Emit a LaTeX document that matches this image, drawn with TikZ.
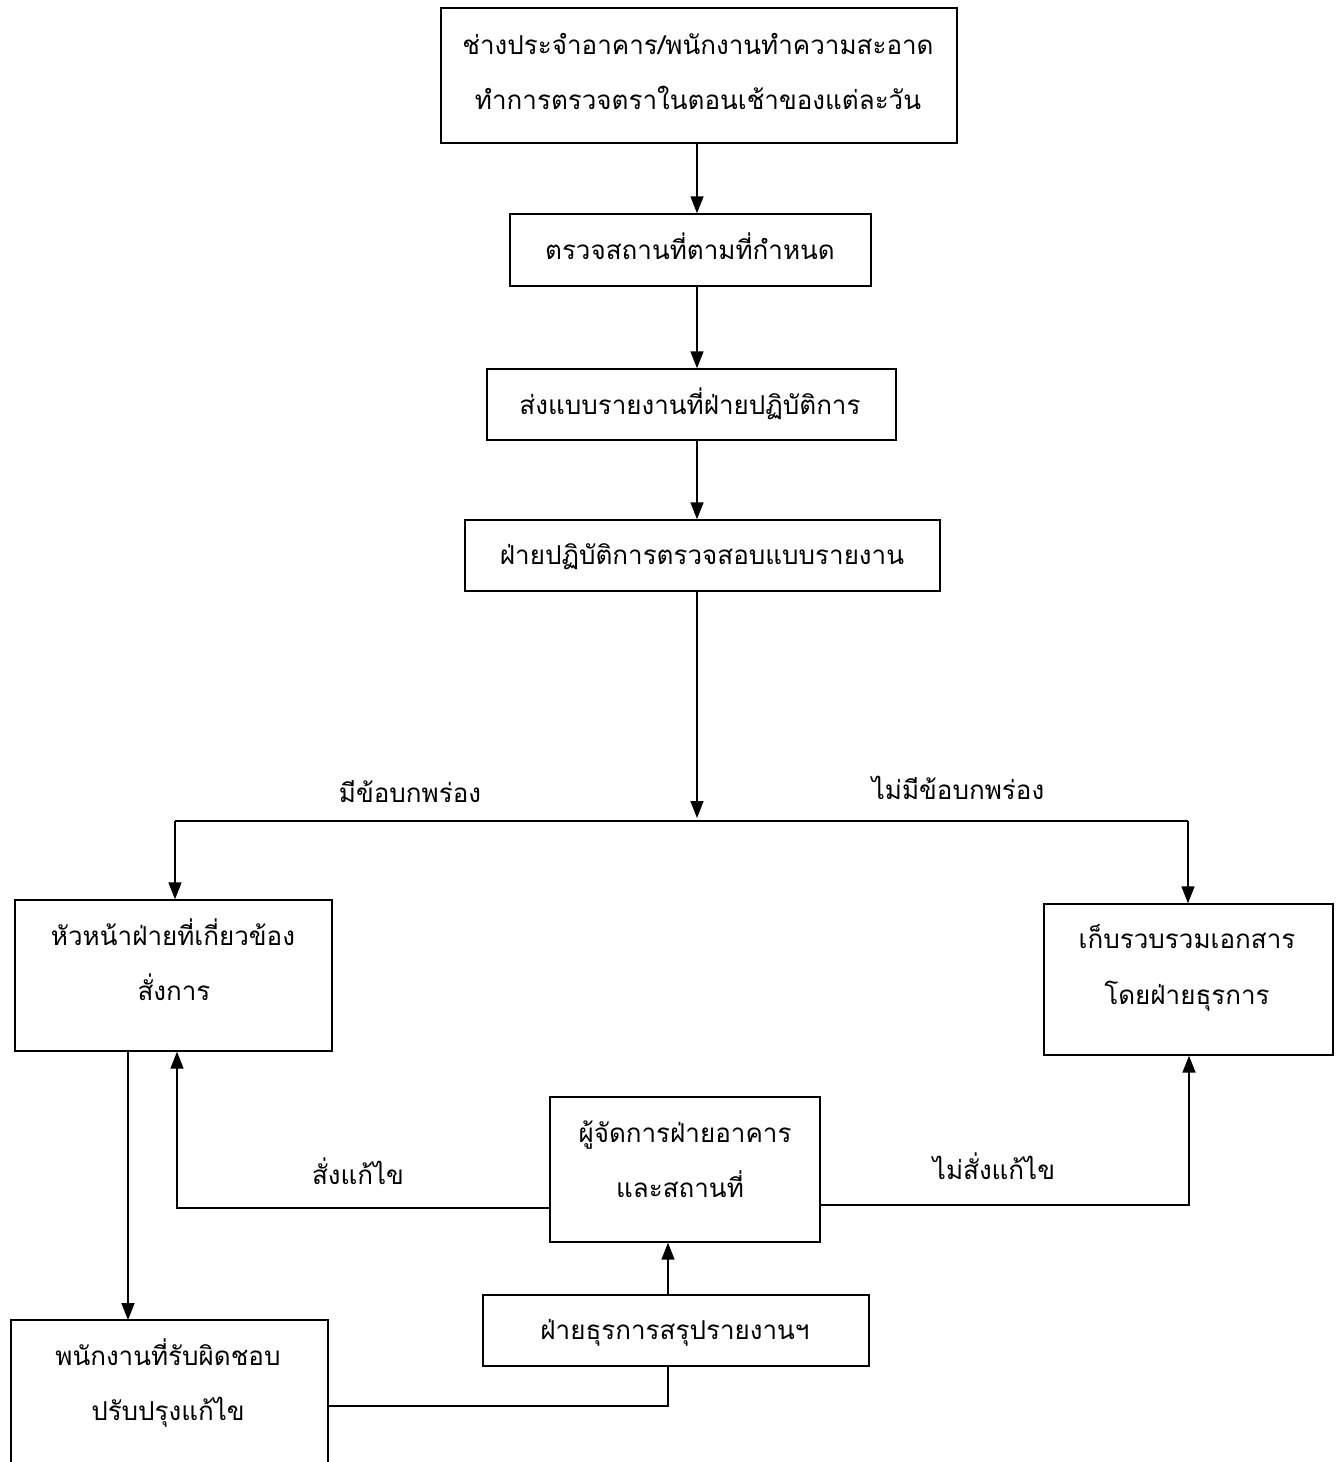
\documentclass[tikz,border=0pt]{standalone}
\usepackage{fontspec}
\newfontfamily\thaifont[Script=Thai]{Loma}
\usetikzlibrary{arrows.meta}
\tikzset{
  box/.style={draw, line width=1.4pt, inner sep=0pt},
  txt/.style={anchor=base, inner sep=0pt, font=\fontsize{26}{30}\thaifont},
  arr/.style={line width=1.6pt, -{Triangle[width=13pt,length=17pt]}},
  ln/.style={line width=1.4pt}
}
\begin{document}
\begin{tikzpicture}[x=1pt,y=-1pt]
\useasboundingbox (0,0) rectangle (1343,1462);
% boxes
\node[box, minimum width=516pt, minimum height=135pt] (b1) at (699,75.5) {};
\node[box, minimum width=361pt, minimum height=72pt] (b2) at (690.5,250) {};
\node[box, minimum width=409pt, minimum height=71pt] (b3) at (691.5,404.5) {};
\node[box, minimum width=475pt, minimum height=71pt] (b4) at (702.5,555.5) {};
\node[box, minimum width=317pt, minimum height=151pt] (b5) at (173.5,975.5) {};
\node[box, minimum width=289pt, minimum height=151pt] (b6) at (1188.5,979.5) {};
\node[box, minimum width=270pt, minimum height=145pt] (b7) at (685,1169.5) {};
\node[box, minimum width=386pt, minimum height=71pt] (b8) at (676,1330.5) {};
% bottom box, cut by the page edge
\coordinate (b9tl) at (11,1320);
\coordinate (b9tr) at (328,1320);
\draw[ln] (11,1480) -- (b9tl) -- (b9tr) -- (328,1480);
% texts
\node[txt] (t1a) at (698,54) {ช่างประจำอาคาร/พนักงานทำความสะอาด};
\node[txt] (t1b) at (698,109) {ทำการตรวจตราในตอนเช้าของแต่ละวัน};
\node[txt] (t2) at (690,259) {ตรวจสถานที่ตามที่กำหนด};
\node[txt] (t3) at (690,414) {ส่งแบบรายงานที่ฝ่ายปฏิบัติการ};
\node[txt] (t4) at (702,564) {ฝ่ายปฏิบัติการตรวจสอบแบบรายงาน};
\node[txt] (lyes) at (410,802) {มีข้อบกพร่อง};
\node[txt] (lno) at (958,799) {ไม่มีข้อบกพร่อง};
\node[txt] (t5a) at (173,945) {หัวหน้าฝ่ายที่เกี่ยวข้อง};
\node[txt] (t5b) at (174,1000) {สั่งการ};
\node[txt] (t6a) at (1187,948) {เก็บรวบรวมเอกสาร};
\node[txt] (t6b) at (1187,1004) {โดยฝ่ายธุรการ};
\node[txt] (t7a) at (685,1142) {ผู้จัดการฝ่ายอาคาร};
\node[txt] (t7b) at (680,1197) {และสถานที่};
\node[txt] (lfix) at (358,1184) {สั่งแก้ไข};
\node[txt] (lnofix) at (994,1179) {ไม่สั่งแก้ไข};
\node[txt] (t8) at (675,1339) {ฝ่ายธุรการสรุปรายงานฯ};
\node[txt] (t9a) at (168,1365) {พนักงานที่รับผิดชอบ};
\node[txt] (t9b) at (168,1420) {ปรับปรุงแก้ไข};
% connectors
\draw[arr] (b1.south -| 697,0) -- (b2.north -| 697,0);
\draw[arr] (b2.south -| 697,0) -- (b3.north -| 697,0);
\draw[arr] (b3.south -| 697,0) -- (b4.north -| 697,0);
\draw[arr] (b4.south -| 697,0) -- (697,818);
\draw[ln] (175,821) -- (1188,821);
\draw[arr] (175,821) -- (b5.north -| 175,0);
\draw[arr] (1188,821) -- (b6.north -| 1188,0);
\draw[arr] (b7.west |- 0,1208) -- (177,1208) -- (b5.south -| 177,0);
\draw[arr] (b7.east |- 0,1205) -- (1189,1205) -- (b6.south -| 1189,0);
\draw[arr] (b8.north -| 668,0) -- (b7.south -| 668,0);
\draw[ln] (b8.south -| 668,0) -- (668,1406) -- (b9tr |- 0,1406);
\draw[arr] (b5.south -| 128,0) -- (b9tl -| 128,0);
\end{tikzpicture}
\end{document}
